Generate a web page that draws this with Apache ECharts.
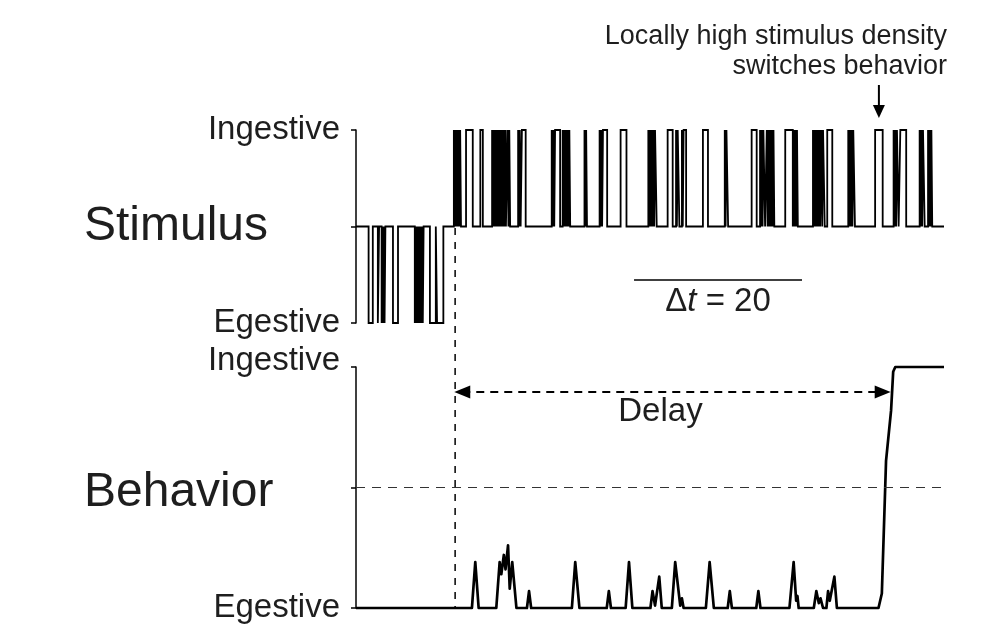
<!DOCTYPE html>
<html>
<head>
<meta charset="utf-8">
<script src="https://cdn.jsdelivr.net/npm/echarts@6/dist/echarts.min.js"></script>
<style>
  html, body { margin: 0; padding: 0; background: #fff; }
  #chart { width: 1003px; height: 631px; }
</style>
</head>
<body>
<div id="chart"></div>
<script>
// Time runs 0..70 (arbitrary units); stimulus pulses are [start, end] intervals.
const timeMax = 70;
const onsetTime = 11.8;          // stimulus switches from egestive to ingestive
const switchTime = 63.65;        // behaviour crosses over to ingestive
const windowStart = 33.1;        // averaging window shown under the stimulus
const windowLength = 20;
const densityPulseTime = 62.25;  // the pulse burst that flips behaviour

const stimulusTicks = { '1': 'Ingestive', '-1': 'Egestive' };
const behaviorTicks = { '1': 'Ingestive', '0': 'Egestive' };

const egestivePulses = [
  [1.5, 2.0],
  [2.6, 2.75], [3.05, 3.15], [3.25, 3.35], [3.4, 3.5],
  [4.4, 5.0],
  [7.0, 7.1], [7.2, 7.3], [7.4, 7.5], [7.6, 7.7], [7.8, 7.9], [7.95, 8.05],
  [8.8, 9.5], [9.65, 10.4]
];

const ingestivePulses = [
  [11.65, 11.75], [11.85, 11.95], [12.05, 12.15], [12.25, 12.35], [12.4, 12.5],
  [13.1, 13.9],
  [14.8, 15.1],
  [16.2, 16.3], [16.4, 16.5], [16.6, 16.7], [16.8, 16.9], [17.0, 17.1], [17.2, 17.3],
  [17.4, 17.5], [17.6, 17.7], [17.8, 17.85], [18.05, 18.15], [18.25, 18.35],
  [19.3, 19.4], [19.5, 19.6], [19.75, 20.2],
  [23.3, 23.4], [23.5, 23.6], [23.7, 24.3],
  [24.6, 24.7], [24.8, 24.9], [25.0, 25.1], [25.2, 25.3], [25.4, 25.5],
  [27.2, 27.3], [27.4, 27.5],
  [29.0, 29.1], [29.2, 29.3], [29.4, 29.9],
  [31.5, 32.2],
  [34.8, 34.9], [35.0, 35.1], [35.2, 35.3], [35.4, 35.5], [35.6, 35.8],
  [37.1, 37.7],
  [38.1, 38.2], [38.3, 38.5],
  [38.8, 38.9], [39.0, 39.3],
  [41.3, 41.9],
  [43.9, 44.0], [44.1, 44.3],
  [47.1, 47.7],
  [48.1, 48.2], [48.3, 48.4], [48.5, 48.7],
  [48.9, 49.0], [49.1, 49.2], [49.3, 49.4], [49.5, 49.6], [49.7, 49.8],
  [51.1, 52.0], [52.1, 52.2], [52.3, 52.4], [52.5, 52.6],
  [54.4, 54.5], [54.6, 54.7], [54.8, 54.9], [55.0, 55.1], [55.2, 55.25], [55.4, 55.5], [55.6, 55.8],
  [56.1, 56.7],
  [58.6, 58.7], [58.8, 58.9], [59.0, 59.1], [59.2, 59.4],
  [61.8, 62.7],
  [64.0, 64.1], [64.2, 64.3], [64.4, 64.6],
  [64.8, 65.5],
  [67.1, 67.2], [67.3, 67.4], [67.5, 67.7],
  [68.1, 68.2], [68.3, 68.4], [68.5, 68.6]
];

// Behaviour state: 0 = egestive, 1 = ingestive
const behaviorTrace = [
  [0, 0], [13.8, 0], [14.2, 0.19], [14.6, 0],
  [16.7, 0], [17.1, 0.19], [17.3, 0.14], [17.6, 0.22], [17.8, 0.16], [18.1, 0.26],
  [18.3, 0.08], [18.6, 0.19], [19.1, 0],
  [20.35, 0], [20.6, 0.07], [20.85, 0],
  [25.7, 0], [26.1, 0.19], [26.6, 0],
  [29.85, 0], [30.1, 0.07], [30.35, 0],
  [32.1, 0], [32.5, 0.19], [32.9, 0],
  [35.05, 0], [35.3, 0.07], [35.6, 0.01], [36.1, 0.13], [36.4, 0],
  [37.6, 0], [38.0, 0.19], [38.6, 0.01], [38.8, 0.04], [39.0, 0],
  [41.65, 0], [42.1, 0.19], [42.6, 0],
  [44.25, 0], [44.5, 0.07], [44.75, 0],
  [47.65, 0], [47.9, 0.07], [48.15, 0],
  [51.6, 0], [52.1, 0.19], [52.4, 0.03], [52.55, 0.05], [52.7, 0],
  [54.5, 0], [54.8, 0.07], [55.1, 0.02], [55.3, 0.04], [55.6, 0],
  [56.0, 0], [56.2, 0.07], [56.4, 0.03], [56.95, 0.13], [57.25, 0],
  [62.2, 0], [62.6, 0.06], [63.1, 0.61], [63.7, 0.82], [63.95, 0.98], [64.2, 1.0], [70, 1.0]
];

// Expand the pulse intervals into a square-wave polyline around 0.
function pulseTrain() {
  const pulses = egestivePulses.map(p => [p[0], p[1], -1])
    .concat(ingestivePulses.map(p => [p[0], p[1], 1]))
    .sort((a, b) => a[0] - b[0]);
  const pts = [[0, 0]];
  pulses.forEach(([a, b, s]) => {
    pts.push([a, 0], [a, s], [b, s], [b, 0]);
  });
  pts.push([timeMax, 0]);
  return pts;
}

const FONT = '"Liberation Sans", Arial, Helvetica, sans-serif';
const INK = '#000';
const TEXT = '#1e1e1e';
const LABEL_SIZE = 33;

const chart = echarts.init(document.getElementById('chart'), null, { renderer: 'canvas' });

const yAxisCommon = {
  axisLine: { show: true, lineStyle: { color: INK, width: 1.5 } },
  axisTick: { show: true, inside: false, length: 5, lineStyle: { color: INK, width: 1.5 } },
  splitLine: { show: false },
  axisLabel: { margin: 16, color: TEXT, fontFamily: FONT, fontSize: LABEL_SIZE }
};

chart.setOption({
  animation: false,
  backgroundColor: '#fff',
  grid: [
    { left: 356, width: 588, top: 130, height: 193 },
    { left: 356, width: 588, top: 367, height: 241 }
  ],
  xAxis: [
    { type: 'value', gridIndex: 0, min: 0, max: timeMax, show: false },
    { type: 'value', gridIndex: 1, min: 0, max: timeMax, show: false }
  ],
  yAxis: [
    Object.assign({}, yAxisCommon, {
      type: 'value', gridIndex: 0, min: -1, max: 1, interval: 1,
      axisLabel: Object.assign({}, yAxisCommon.axisLabel, {
        formatter: v => stimulusTicks[String(v)] || ''
      })
    }),
    Object.assign({}, yAxisCommon, {
      type: 'value', gridIndex: 1, min: 0, max: 1, interval: 0.5,
      axisLabel: Object.assign({}, yAxisCommon.axisLabel, {
        formatter: v => v === 1 ? '{up|' + behaviorTicks['1'] + '}' : (behaviorTicks[String(v)] || ''),
        rich: { up: { fontFamily: FONT, fontSize: LABEL_SIZE, color: TEXT, padding: [0, 0, 12, 0] } }
      })
    })
  ],
  series: [
    {
      name: 'Stimulus',
      type: 'line',
      xAxisIndex: 0, yAxisIndex: 0,
      data: pulseTrain(),
      symbol: 'none',
      clip: false,
      lineStyle: { color: INK, width: 1.8, join: 'miter' },
      markLine: {
        silent: true,
        symbol: 'none',
        lineStyle: { color: INK, width: 1.5, type: 'solid' },
        label: {
          show: true,
          position: 'insideMiddleBottom',
          distance: 6,
          formatter: '{n|\u0394}{i|t}{n| = ' + windowLength + '}',
          rich: {
            n: { fontFamily: FONT, fontSize: LABEL_SIZE, color: TEXT },
            i: { fontFamily: FONT, fontSize: LABEL_SIZE, color: TEXT, fontStyle: 'italic' }
          }
        },
        data: [[
          { coord: [windowStart, -0.55] },
          { coord: [windowStart + windowLength, -0.55] }
        ]]
      }
    },
    {
      name: 'Behavior',
      type: 'line',
      xAxisIndex: 1, yAxisIndex: 1,
      data: behaviorTrace,
      symbol: 'none',
      clip: false,
      lineStyle: { color: INK, width: 2.7, join: 'round' },
      markLine: {
        silent: true,
        symbol: 'none',
        data: [
          {
            yAxis: 0.5,
            label: { show: false },
            lineStyle: { color: '#333', width: 1, type: [9, 7] }
          },
          [
            {
              coord: [onsetTime + 0.85, 0.896],
              symbol: 'triangle',
              symbolSize: [13, 16],
              lineStyle: { color: INK, width: 1.8, type: [8, 6] },
              label: {
                show: true,
                position: 'insideMiddleBottom',
                distance: 3,
                padding: [0, 24, 0, 0],
                formatter: 'Delay',
                fontFamily: FONT, fontSize: LABEL_SIZE, color: TEXT
              }
            },
            { coord: [switchTime - 0.95, 0.896], symbol: 'triangle', symbolSize: [13, 16] }
          ]
        ],
        itemStyle: { color: INK }
      }
    }
  ]
});

// Annotations that span both panels or sit outside the plot areas.
const onsetTop = chart.convertToPixel({ gridIndex: 0 }, [onsetTime, 1]);
const onsetBottom = chart.convertToPixel({ gridIndex: 1 }, [onsetTime, 0]);
const stimMid = chart.convertToPixel({ gridIndex: 0 }, [0, 0]);
const behMid = chart.convertToPixel({ gridIndex: 1 }, [0, 0.5]);
const burstTop = chart.convertToPixel({ gridIndex: 0 }, [densityPulseTime, 1]);

chart.setOption({
  graphic: [
    {
      type: 'line',
      shape: { x1: onsetTop[0], y1: onsetTop[1], x2: onsetBottom[0], y2: onsetBottom[1] },
      style: { stroke: INK, lineWidth: 1.5, lineDash: [7, 7] },
      z: 10
    },
    {
      type: 'text',
      left: 84, top: stimMid[1] - 24,
      style: { text: 'Stimulus', fontFamily: FONT, fontSize: 48, fill: TEXT }
    },
    {
      type: 'text',
      left: 84, top: behMid[1] - 19,
      style: { text: 'Behavior', fontFamily: FONT, fontSize: 48, fill: TEXT }
    },
    {
      type: 'text',
      x: 947, y: 22,
      style: {
        text: 'Locally high stimulus density\nswitches behavior',
        fontFamily: FONT, fontSize: 27, lineHeight: 30,
        fill: TEXT, align: 'right', verticalAlign: 'top'
      }
    },
    {
      type: 'line',
      shape: { x1: burstTop[0], y1: burstTop[1] - 45, x2: burstTop[0], y2: burstTop[1] - 22 },
      style: { stroke: INK, lineWidth: 2 }
    },
    {
      type: 'polygon',
      shape: { points: [
        [burstTop[0] - 6, burstTop[1] - 25],
        [burstTop[0] + 6, burstTop[1] - 25],
        [burstTop[0], burstTop[1] - 12]
      ] },
      style: { fill: INK }
    }
  ]
});
</script>
</body>
</html>
